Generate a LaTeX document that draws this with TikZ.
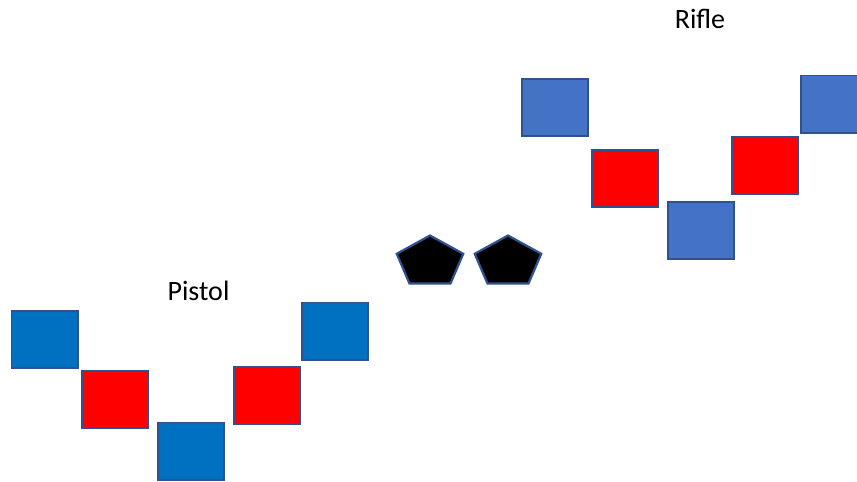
\documentclass[tikz,border=0pt]{standalone}
\usepackage{fontspec}
\setmainfont{Carlito}
\usepackage{tikz}
\usetikzlibrary{shapes.geometric, positioning}
\definecolor{pistolblue}{HTML}{0070C0}
\definecolor{rifleblue}{HTML}{4472C4}
\definecolor{edgeblue}{HTML}{2F528F}

\begin{document}
\begin{tikzpicture}[x=1pt, y=-1pt,
        caja/.style={rectangle, draw=edgeblue, line width=1.7pt, minimum width=66.3pt, minimum height=57.3pt, inner sep=0pt},
        azulp/.style={caja, fill=pistolblue},
        azulr/.style={caja, fill=rifleblue},
        rojo/.style={caja, fill=red},
        bala/.style={regular polygon, regular polygon sides=5, draw=edgeblue, fill=black, line width=2.2pt, minimum size=53pt, inner sep=0pt, xscale=1.32, transform shape},
        etiqueta/.style={font=\fontsize{28}{32}\selectfont, anchor=base, inner sep=0pt}]

        \useasboundingbox (0,0) rectangle (857,482);
        \clip (0,0) rectangle (857,482);

        % Pistol
        \node[azulp] (pb1) at (44.5,339.5) {};
        \node[rojo]  (pr1) at (115,399) {};
        \node[azulp] (pb2) at (191,451) {};
        \node[rojo]  (pr2) at (267,395.5) {};
        \node[azulp] (pb3) at (335,331) {};
        \node[etiqueta] (tpistol) at (198.5,300) {Pistol};

        % Rifle
        \node[azulr] (rb1) at (555,107.5) {};
        \node[rojo]  (rr1) at (625,178.5) {};
        \node[azulr] (rb2) at (701,230.5) {};
        \node[rojo]  (rr2) at (765,165) {};
        \node[azulr] (rb3) at (834,104) {};
        \node[etiqueta] (trifle) at (700,28) {Rifle};

        \node[bala] (p1) at (430,262) {};
        \node[bala] (p2) at (508,262) {};
    \end{tikzpicture}
\end{document}
